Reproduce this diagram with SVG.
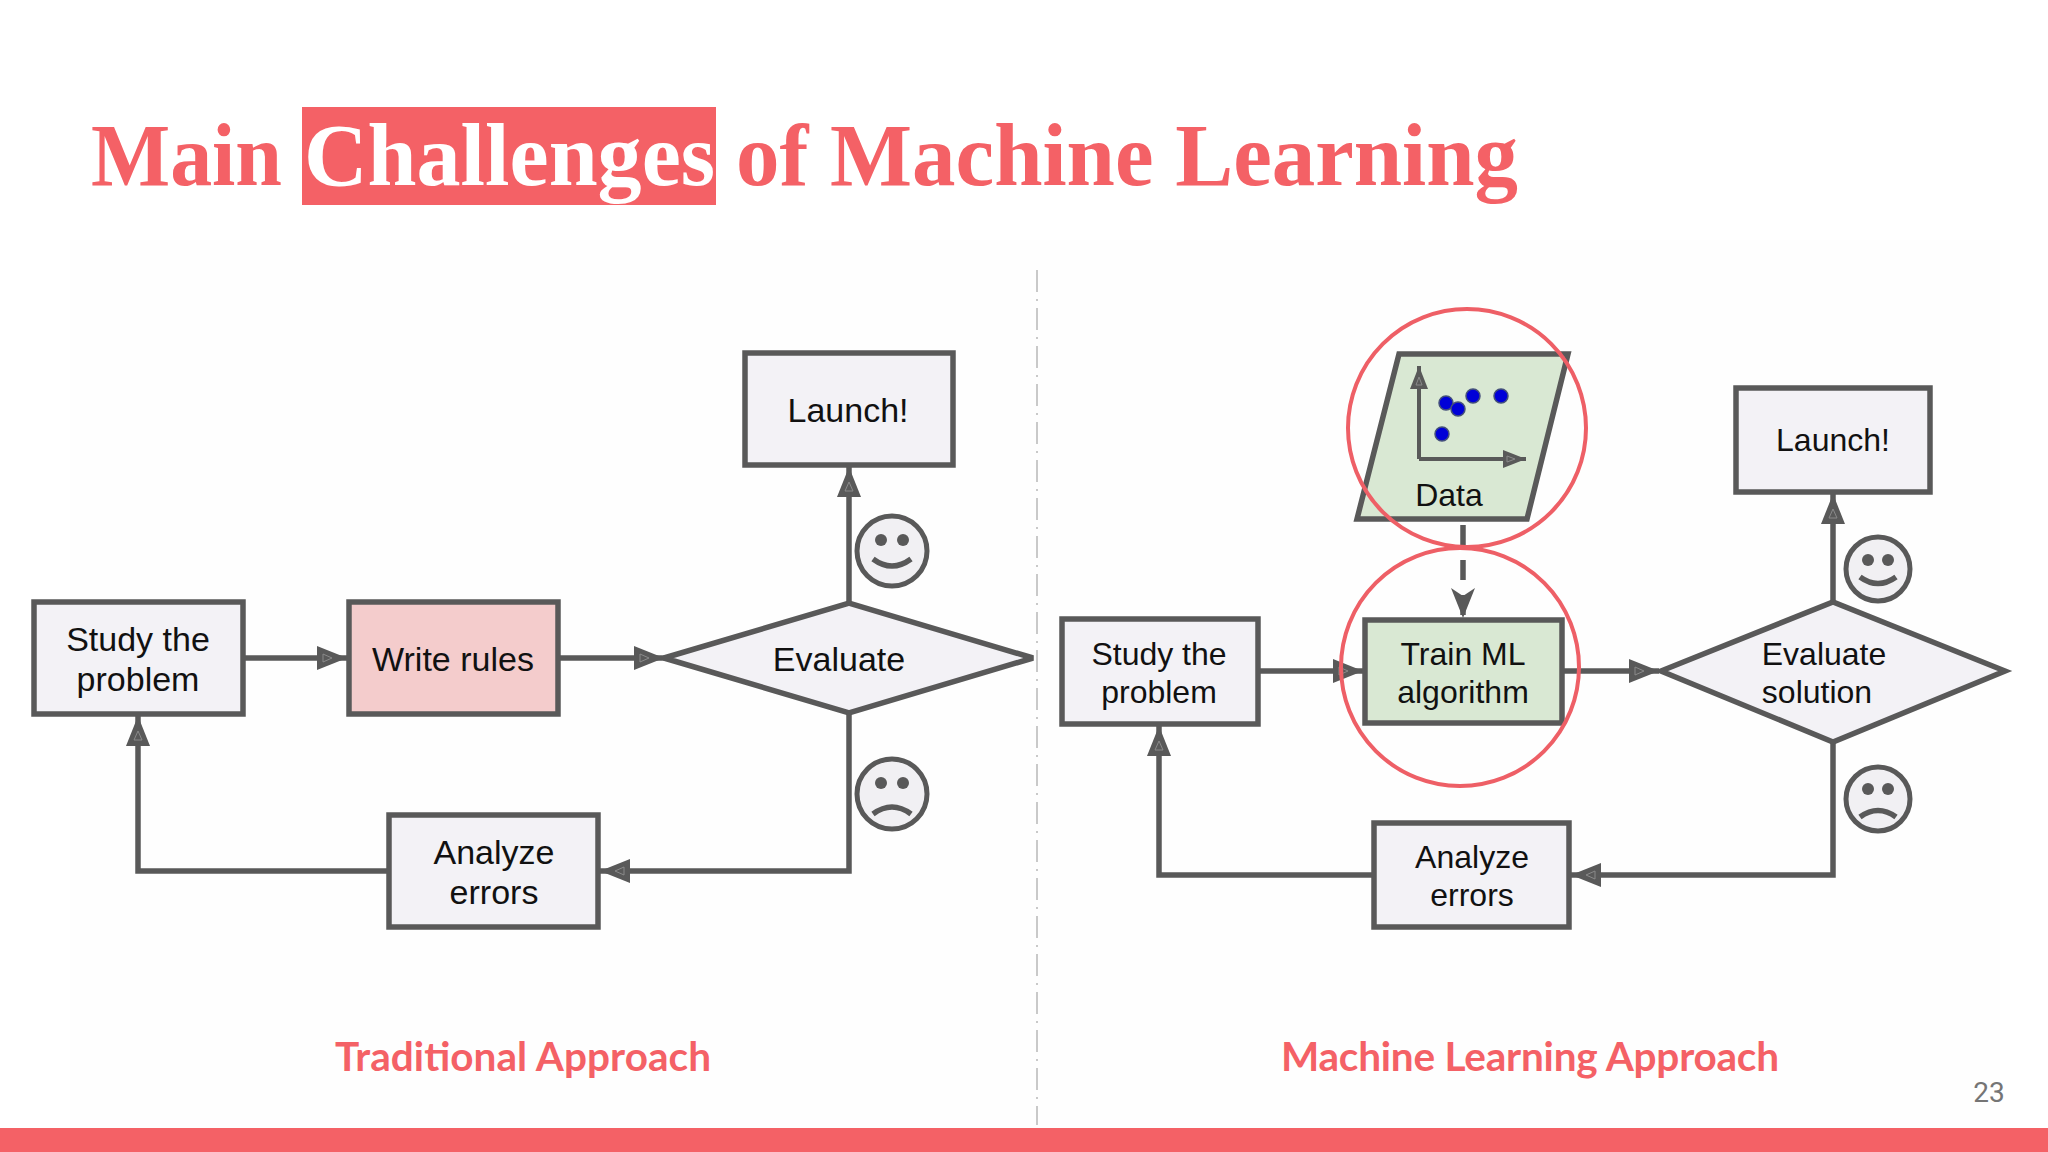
<svg xmlns="http://www.w3.org/2000/svg" width="2048" height="1152" viewBox="0 0 2048 1152">
<style>
.t{font-family:"Liberation Sans",Arial,sans-serif;font-size:34px;fill:#111;text-anchor:middle}
.b{fill:#f3f2f6;stroke:#595959;stroke-width:5.5}
.c{fill:none;stroke:#595959;stroke-width:5.5}
.title{font-family:"Liberation Serif","Times New Roman",serif;font-weight:700;font-size:88px;fill:#f46166}
.cap{font-family:Lato,"Noto Sans",sans-serif;font-weight:700;font-size:40.5px;fill:#f46166;text-anchor:middle}
.ring{fill:none;stroke:#ee5f66;stroke-width:4}
.face{fill:#f1f0f3;stroke:#595959;stroke-width:5}
.eye{fill:#595959}
</style>
<defs>
<marker id="a" markerUnits="userSpaceOnUse" markerWidth="34" markerHeight="30" refX="32" refY="12" orient="auto">
<path d="M2 0L32 12L2 24Z" fill="#595959"/><path d="M8 8L17 12L8 16Z" fill="none" stroke="#8a8a8a" stroke-width="1"/>
</marker>
<marker id="s" markerUnits="userSpaceOnUse" markerWidth="26" markerHeight="20" refX="24" refY="9" orient="auto">
<path d="M1 0L24 9L1 18Z" fill="#595959"/><path d="M5 6L13 9L5 12Z" fill="none" stroke="#8a8a8a" stroke-width="1"/>
</marker>
<marker id="d" markerUnits="userSpaceOnUse" markerWidth="34" markerHeight="30" refX="30" refY="13" orient="auto">
<path d="M0 1L30 13L0 25L8 13Z" fill="#595959"/>
</marker>
</defs>
<rect width="2048" height="1152" fill="#fff"/>
<rect x="70" y="240" width="1930" height="888" fill="#fefefe"/>
<rect x="302" y="107" width="414" height="98" fill="#f46166"/>
<text class="title" x="91" y="185" textLength="191" lengthAdjust="spacingAndGlyphs">Main</text>
<text class="title" x="304" y="185" textLength="411" lengthAdjust="spacingAndGlyphs" style="fill:#fff">Challenges</text>
<text class="title" x="736" y="185" textLength="782" lengthAdjust="spacingAndGlyphs">of Machine Learning</text>
<path d="M1037 270V1125" fill="none" stroke="#c9c9c9" stroke-width="2" stroke-dasharray="22 7 2 7"/>
<g id="connectors">
<path class="c" marker-end="url(#a)" d="M243 658H347"/>
<path class="c" marker-end="url(#a)" d="M558 658H664"/>
<path class="c" marker-end="url(#a)" d="M849 603V467"/>
<path class="c" marker-end="url(#a)" d="M849 713V871H600"/>
<path class="c" marker-end="url(#a)" d="M389 871H138V716"/>
<path class="c" marker-end="url(#a)" d="M1258 671H1363"/>
<path class="c" marker-end="url(#a)" d="M1562 671H1659"/>
<path class="c" marker-end="url(#a)" d="M1833 602V494"/>
<path class="c" marker-end="url(#a)" d="M1833 742V875H1571"/>
<path class="c" marker-end="url(#a)" d="M1374 875H1159V726"/>
<path class="c" marker-end="url(#d)" stroke-dasharray="20 15" d="M1463 525V618"/>
</g>
<g id="study-left"><rect class="b" x="34" y="602" width="209" height="112"/><text class="t" x="138" y="651">Study the</text><text class="t" x="138" y="691">problem</text></g>
<g id="write-rules"><rect class="b" x="349" y="602" width="209" height="112" style="fill:#f4cccc"/><text class="t" x="453" y="671">Write rules</text></g>
<g id="launch-left"><rect class="b" x="745" y="353" width="208" height="112"/><text class="t" x="848" y="422">Launch!</text></g>
<g id="evaluate-left"><path class="b" stroke-miterlimit="3" d="M664 658L849 603L1033 658L849 713Z"/><text class="t" x="839" y="671">Evaluate</text></g>
<g id="analyze-left"><rect class="b" x="389" y="815" width="209" height="112"/><text class="t" x="494" y="864">Analyze</text><text class="t" x="494" y="904">errors</text></g>
<g id="smile-left"><circle class="face" cx="892" cy="551" r="35"/><circle class="eye" cx="881" cy="540" r="6"/><circle class="eye" cx="903" cy="540" r="6"/><path class="c" d="M873 559Q892 573 911 559"/></g>
<g id="sad-left"><circle class="face" cx="892" cy="794" r="35"/><circle class="eye" cx="881" cy="783" r="6"/><circle class="eye" cx="903" cy="783" r="6"/><path class="c" d="M873 814Q892 800 911 814"/></g>
<g id="study-right"><rect class="b" x="1062" y="619" width="196" height="105"/><text class="t" x="1159" y="665" style="font-size:32px">Study the</text><text class="t" x="1159" y="703" style="font-size:32px">problem</text></g>
<g id="data"><path class="b" d="M1399 354H1568L1527 519H1357Z" style="fill:#d9e8d3"/>
<path class="c" style="stroke-width:4" marker-end="url(#s)" d="M1419 459V366"/>
<path class="c" style="stroke-width:4" marker-end="url(#s)" d="M1419 459H1526"/>
<g fill="#0000d8" stroke="#44507a" stroke-width="1.5"><circle cx="1446" cy="403" r="7"/><circle cx="1458" cy="409" r="7"/><circle cx="1473" cy="396" r="7"/><circle cx="1501" cy="396" r="7"/><circle cx="1442" cy="434" r="7"/></g>
<text class="t" x="1449" y="506" style="font-size:32px">Data</text></g>
<g id="train"><rect class="b" x="1365" y="620" width="197" height="103" style="fill:#d9e8d3"/><text class="t" x="1463" y="665" style="font-size:32px">Train ML</text><text class="t" x="1463" y="703" style="font-size:32px">algorithm</text></g>
<g id="launch-right"><rect class="b" x="1736" y="388" width="194" height="104"/><text class="t" x="1833" y="451" style="font-size:32px">Launch!</text></g>
<g id="evaluate-right"><path class="b" stroke-miterlimit="3" d="M1661 671L1833 602L2005 671L1833 742Z"/><text class="t" x="1824" y="665" style="font-size:32px">Evaluate</text><text class="t" x="1817" y="703" style="font-size:32px">solution</text></g>
<g id="analyze-right"><rect class="b" x="1374" y="823" width="195" height="104"/><text class="t" x="1472" y="868" style="font-size:32px">Analyze</text><text class="t" x="1472" y="906" style="font-size:32px">errors</text></g>
<g id="smile-right"><circle class="face" cx="1878" cy="569" r="32"/><circle class="eye" cx="1868" cy="560" r="6"/><circle class="eye" cx="1888" cy="560" r="6"/><path class="c" d="M1860 577Q1878 590 1896 577"/></g>
<g id="sad-right"><circle class="face" cx="1878" cy="799" r="32"/><circle class="eye" cx="1868" cy="789" r="6"/><circle class="eye" cx="1888" cy="789" r="6"/><path class="c" d="M1860 817Q1878 804 1896 817"/></g>
<circle class="ring" cx="1467" cy="428" r="119"/>
<circle class="ring" cx="1460" cy="667" r="119"/>
<text class="cap" x="523" y="1071" textLength="376">Traditional Approach</text>
<text class="cap" x="1530" y="1071" textLength="498">Machine Learning Approach</text>
<text x="1989" y="1102" text-anchor="middle" style="font-family:Roboto,'Open Sans',sans-serif;font-size:28px;fill:#757575">23</text>
<rect y="1128" width="2048" height="24" fill="#f46166"/>
</svg>
